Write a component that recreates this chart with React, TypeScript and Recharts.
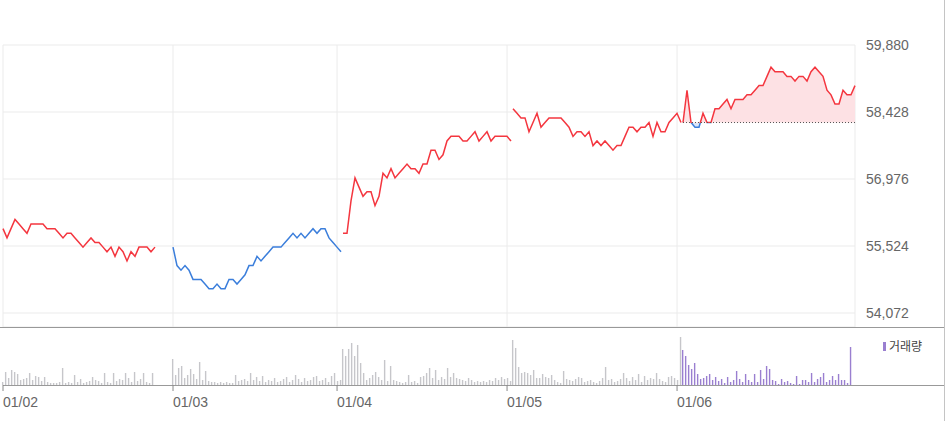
import { Area, Bar, CartesianGrid, Cell, ComposedChart, Line, ReferenceLine, XAxis, YAxis } from "recharts"

// five trading days, intraday samples
const dayLabels = ["01/02", "01/03", "01/04", "01/05", "01/06"]
const dayTicks = [0, 1, 1.965, 2.965, 3.965]
const priceTicks = [54072, 55524, 56976, 58428, 59880]
const prevClose = 58200

const day1Price = [
  55900, 55700, 55900, 56100, 56000, 55900, 55800, 56000, 56000, 56000, 56000, 55900, 55900,
  55900, 55800, 55700, 55800, 55800, 55700, 55600, 55500, 55600, 55700, 55600, 55600, 55500,
  55400, 55500, 55300, 55500, 55400, 55200, 55400, 55300, 55500, 55500, 55500, 55400, 55500,
]
const day2Price = [
  55500, 55100, 55000, 55100, 55000, 54800, 54800, 54800, 54700, 54600, 54600, 54700, 54600,
  54600, 54800, 54800, 54700, 54800, 54900, 55100, 55100, 55300, 55200, 55300, 55400, 55500,
  55500, 55500, 55600, 55700, 55800, 55700, 55800, 55700, 55800, 55900, 55800, 55900, 55900,
  55700, 55600, 55500, 55400,
]
const day3Price = [
  55800, 55800, 56500, 57000, 56800, 56600, 56700, 56700, 56400, 56600, 57100, 57000, 57200,
  57000, 57100, 57200, 57300, 57200, 57200, 57100, 57300, 57300, 57600, 57600, 57400, 57500,
  57800, 57900, 57900, 57900, 57800, 57800, 57900, 58000, 57800, 57900, 58000, 57800, 57900,
  57900, 57900, 57900, 57800,
]
const day4Price = [
  58500, 58400, 58300, 58300, 58000, 58200, 58400, 58100, 58200, 58300, 58300, 58300, 58300,
  58200, 58100, 57900, 58000, 58000, 57900, 58000, 57700, 57800, 57700, 57800, 57700, 57600,
  57700, 57700, 57900, 58100, 58100, 58000, 58100, 58100, 58200, 57900, 58200, 58000, 58000,
  58200, 58300, 58400, 58200,
]
const day5Price = [
  58200, 58900, 58200, 58100, 58100, 58400, 58200, 58200, 58500, 58500, 58600, 58700, 58500,
  58700, 58700, 58700, 58800, 58800, 58900, 59000, 59000, 59200, 59400, 59300, 59300, 59300,
  59200, 59200, 59100, 59200, 59200, 59100, 59300, 59400, 59300, 59200, 58900, 58800, 58600,
  58600, 58900, 58800, 58800, 59000,
]

const day1Volume = [
  6, 26, 14, 30, 26, 22, 10, 12, 14, 24, 10, 18, 16, 8, 16, 6, 4, 4, 4, 6, 34, 4, 6, 4, 20, 6,
  12, 4, 6, 8, 16, 10, 8, 4, 24, 6, 4, 24, 8, 12, 10, 24, 14, 6, 26, 8, 12, 24, 6, 4, 24,
]
const day2Volume = [
  52, 20, 34, 38, 14, 20, 32, 22, 12, 46, 10, 28, 8, 6, 6, 4, 6, 4, 6, 4, 4, 20, 8, 10, 12, 8,
  24, 10, 16, 8, 18, 6, 10, 8, 14, 6, 8, 12, 16, 6, 10, 20, 12, 6, 14, 8, 10, 16, 18, 8, 10, 14,
  6, 18, 24, 8, 10,
]
const day3Volume = [
  72, 58, 72, 84, 58, 80, 44, 24, 10, 14, 20, 26, 16, 10, 50, 8, 38, 10, 8, 6, 4, 6, 20, 6, 8,
  4, 16, 18, 24, 34, 14, 30, 10, 16, 12, 34, 16, 24, 14, 12, 10, 8, 14, 10, 6, 8, 6, 8, 6, 10,
  8, 14, 10, 16, 12, 14, 8,
]
const day4Volume = [
  90, 74, 36, 24, 26, 24, 20, 30, 14, 14, 22, 16, 14, 20, 10, 6, 4, 28, 12, 10, 8, 12, 16, 14,
  6, 8, 10, 6, 4, 8, 14, 36, 10, 12, 6, 8, 12, 24, 14, 8, 16, 10, 22, 6, 18, 10, 14, 12, 24, 12,
  8, 6, 16, 18, 14, 10, 96,
]
const day5Volume = [
  70, 58, 40, 32, 44, 22, 12, 14, 18, 22, 10, 16, 8, 12, 4, 16, 6, 10, 28, 12, 6, 22, 10, 6, 22,
  6, 30, 12, 38, 32, 10, 8, 2, 12, 6, 8, 4, 2, 18, 2, 10, 10, 6, 24, 6, 12, 16, 24, 6, 10, 18,
  10, 22, 10, 10, 4, 76,
]

const PRICE_STEP = 1 / 42.5
const VOLUME_STEP = 1 / 56.7

const RED = "#f4363f"
const BLUE = "#3b7edb"
const PURPLE = "#9a7fd0"
const GRAY_BAR = "#c6c6ca"

const priceDays = [day1Price, day2Price, day3Price, day4Price, day5Price]
const volumeDays = [day1Volume, day2Volume, day3Volume, day4Volume, day5Volume]

const priceRows = priceDays.flatMap((arr, d) =>
  arr.map((v, i) => ({ x: d + i * PRICE_STEP, ["d" + (d + 1)]: v }))
)
const volumeRows = volumeDays.flatMap((arr, d) =>
  arr.map((v, i) => ({ x: d + i * VOLUME_STEP, v, day: d }))
)
const xEnd = 4 + (day5Price.length - 1) * PRICE_STEP

const d5Max = Math.max(...day5Price)
const d5Min = Math.min(...day5Price)
const splitAt = (d5Max - prevClose) / (d5Max - d5Min)

const DateTick = (props: any) => {
  const { x, y, payload } = props
  const idx = dayTicks.indexOf(payload.value)
  return (
    <text x={x} y={y + 14} fill="#666" fontSize={14} fontFamily="Arial, 'Liberation Sans'">
      {dayLabels[idx]}
    </text>
  )
}

export default function App() {
  return (
    <div style={{ position: "absolute", left: 0, top: 0, width: 947, height: 421, background: "#fff" }}>
      <ComposedChart width={945} height={327} data={priceRows} margin={{ top: 45, right: 0, bottom: 0, left: 3 }}>
        <defs>
          <linearGradient id="d5Stroke" x1="0" y1="0" x2="0" y2="1">
            <stop offset={splitAt} stopColor={RED} />
            <stop offset={splitAt} stopColor={BLUE} />
          </linearGradient>
          <linearGradient id="d5Fill" x1="0" y1="0" x2="0" y2="1">
            <stop offset={splitAt} stopColor="#fde1e4" />
            <stop offset={splitAt} stopColor="#dce7f8" />
          </linearGradient>
        </defs>
        <CartesianGrid stroke="#ebebeb" />
        <XAxis dataKey="x" type="number" domain={[0, xEnd]} ticks={dayTicks.slice(1)} hide />
        <YAxis
          orientation="right"
          width={90}
          domain={[53769, 59880]}
          ticks={priceTicks}
          tickLine={false}
          axisLine={false}
          tickMargin={5}
          tick={{ fill: "#666", fontSize: 14, fontFamily: "Arial, 'Liberation Sans'", textAnchor: "start" }}
          tickFormatter={(v) => Number(v).toLocaleString("en-US")}
        />
        <Area
          type="linear"
          dataKey="d5"
          baseValue={prevClose}
          stroke="url(#d5Stroke)"
          strokeWidth={1.5}
          fill="url(#d5Fill)"
          fillOpacity={1}
          isAnimationActive={false}
        />
        <ReferenceLine
          segment={[
            { x: 4, y: prevClose },
            { x: xEnd, y: prevClose },
          ]}
          stroke="#555"
          strokeDasharray="1 2"
        />
        <Line type="linear" dataKey="d1" stroke={RED} strokeWidth={1.5} dot={false} isAnimationActive={false} />
        <Line type="linear" dataKey="d2" stroke={BLUE} strokeWidth={1.5} dot={false} isAnimationActive={false} />
        <Line type="linear" dataKey="d3" stroke={RED} strokeWidth={1.5} dot={false} isAnimationActive={false} />
        <Line type="linear" dataKey="d4" stroke={RED} strokeWidth={1.5} dot={false} isAnimationActive={false} />
      </ComposedChart>

      <div style={{ position: "absolute", left: 0, top: 327, width: 945, height: 1, background: "#999" }} />
      <div style={{ position: "absolute", left: 3, top: 385, width: 942, height: 1, background: "#999" }} />
      <div style={{ position: "absolute", left: 944, top: 0, width: 1, height: 421, background: "#c4c4c4" }} />

      <div style={{ position: "absolute", left: 0, top: 327 }}>
        <ComposedChart width={945} height={94} data={volumeRows} margin={{ top: 8, right: 90, bottom: 0, left: 3 }}>
          <XAxis
            dataKey="x"
            type="number"
            domain={[0, xEnd]}
            ticks={dayTicks}
            interval={0}
            tick={<DateTick />}
            tickLine={{ stroke: "#888" }}
            tickSize={6}
            axisLine={false}
            height={36}
          />
          <YAxis hide domain={[0, 100]} />
          <Bar dataKey="v" barSize={1.4} isAnimationActive={false}>
            {volumeRows.map((r, i) => (
              <Cell key={i} fill={r.day === 4 ? PURPLE : GRAY_BAR} />
            ))}
          </Bar>
        </ComposedChart>
      </div>

      <div
        style={{
          position: "absolute",
          left: 883,
          top: 338,
          display: "flex",
          alignItems: "center",
          fontFamily: "'Noto Sans CJK KR', sans-serif",
          fontSize: 12,
          color: "#444",
          lineHeight: "16px",
        }}
      >
        <span style={{ display: "inline-block", width: 3, height: 9, background: PURPLE, marginRight: 3 }} />
        거래량
      </div>
    </div>
  )
}
